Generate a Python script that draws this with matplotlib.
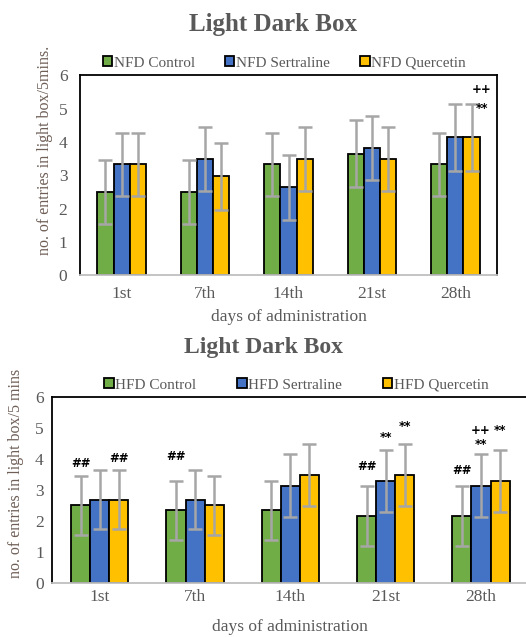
import numpy as np
import matplotlib.pyplot as plt

days = ['1st', '7th', '14th', '21st', '28th']

# normal fat diet
nfd_labels = ['NFD Control', 'NFD Sertraline', 'NFD Quercetin']
nfd_control = [2.5, 2.5, 3.33, 3.65, 3.33]
nfd_control_err = [0.97, 0.97, 0.95, 1.0, 0.95]
nfd_sertraline = [3.33, 3.49, 2.64, 3.82, 4.14]
nfd_sertraline_err = [0.95, 0.96, 0.97, 0.96, 1.0]
nfd_quercetin = [3.33, 2.97, 3.49, 3.49, 4.14]
nfd_quercetin_err = [0.95, 1.0, 0.96, 0.96, 1.0]
# (day index, series index, text, y position)
nfd_marks = [(4, 2, '++', 5.57), (4, 2, '**', 5.0)]

# high fat diet
hfd_labels = ['HFD Control', 'HFD Sertraline', 'HFD Quercetin']
hfd_control = [2.5, 2.33, 2.33, 2.16, 2.16]
hfd_control_err = [0.95, 0.95, 0.95, 0.97, 0.97]
hfd_sertraline = [2.67, 2.67, 3.13, 3.29, 3.13]
hfd_sertraline_err = [0.95, 0.95, 1.02, 1.0, 1.02]
hfd_quercetin = [2.67, 2.5, 3.46, 3.46, 3.29]
hfd_quercetin_err = [0.95, 0.95, 1.0, 1.0, 1.0]
hfd_marks = [(0, 0, '##', 3.85), (0, 2, '##', 4.0), (1, 0, '##', 4.06),
             (3, 0, '##', 3.74), (3, 1, '**', 4.69), (3, 2, '**', 5.03),
             (4, 0, '##', 3.63), (4, 1, '**', 4.46), (4, 1, '++', 4.9),
             (4, 2, '**', 4.92)]

colors = ['#70AD47', '#4472C4', '#FFC000']
GRAY = '#595959'
YLAB = '#6E5E56'

plt.rcParams['font.family'] = 'Liberation Serif'


def draw_panel(ax, series, errs, labels, marks, width, ylabel, mark_dx,
               opts):
    x = np.arange(len(days))
    for i, (vals, err) in enumerate(zip(series, errs)):
        pos = x + (i - 1) * width
        ax.bar(pos, vals, width, color=colors[i], edgecolor='black',
               linewidth=1.3, label=labels[i], zorder=2)
        ax.errorbar(pos, vals, yerr=err, fmt='none', ecolor='#A6A6A6',
                    elinewidth=1.8, capsize=5, capthick=1.8, zorder=3)
    for d, s, txt, yv in marks:
        ax.text(d + (s - 1) * width + mark_dx, yv, txt, ha='center',
                va='center', fontsize=8.5, fontweight='bold', color='black',
                family='DejaVu Sans', zorder=4)

    ax.set_xlim(-0.5, len(days) - 0.5)
    ax.set_ylim(0, 6)
    ax.set_yticks(range(7))
    ax.set_xticks(x)
    ax.set_xticklabels(days)
    ax.tick_params(length=0, labelsize=12.5, labelcolor=GRAY)
    ax.tick_params(axis='x', pad=opts['xpad'])
    ax.tick_params(axis='y', pad=opts['ypad'])
    for sp in ['left', 'top', 'right']:
        ax.spines[sp].set_color('black')
        ax.spines[sp].set_linewidth(1.3)
    ax.spines['bottom'].set_color('#BFBFBF')
    ax.spines['bottom'].set_linewidth(1.3)
    ax.set_xlabel('days of administration', fontsize=12.5, color=GRAY,
                  labelpad=opts['xlabelpad'])
    ax.set_ylabel(ylabel, fontsize=11.5, color=YLAB,
                  labelpad=opts['ylabelpad'])
    ax.yaxis.label.set_y(opts['ylab_y'])
    leg = ax.legend(loc='center', bbox_to_anchor=opts['leg'], ncol=3,
                    frameon=False, fontsize=11, handlelength=0.6,
                    handleheight=0.6, handletextpad=0.1,
                    columnspacing=opts['colsp'])
    for t in leg.get_texts():
        t.set_color(GRAY)


fig = plt.figure(figsize=(5.26, 6.37), dpi=100)

ax1 = fig.add_axes([0.152, 0.568, 0.793, 0.314])
draw_panel(ax1, [nfd_control, nfd_sertraline, nfd_quercetin],
           [nfd_control_err, nfd_sertraline_err, nfd_quercetin_err],
           nfd_labels, nfd_marks, 0.195,
           'no. of entries in light box/5mins.', 0.12,
           dict(xpad=8, ypad=9, xlabelpad=5, ylabelpad=4, ylab_y=0.625,
                leg=(0.49, 1.061), colsp=2.0))
fig.text(0.519, 0.962, 'Light Dark Box', ha='center', va='center',
         fontsize=18, fontweight='bold', color=GRAY)

ax2 = fig.add_axes([0.099, 0.0853, 0.906, 0.292])
draw_panel(ax2, [hfd_control, hfd_sertraline, hfd_quercetin],
           [hfd_control_err, hfd_sertraline_err, hfd_quercetin_err],
           hfd_labels, hfd_marks, 0.2,
           'no. of entries in light box/5 mins', 0.0,
           dict(xpad=4.5, ypad=6, xlabelpad=10, ylabelpad=8, ylab_y=0.59,
                leg=(0.513, 1.063), colsp=2.7))
fig.text(0.5, 0.4537, 'Light Dark Box', ha='center', va='center',
         fontsize=17, fontweight='bold', color=GRAY)

fig.savefig('out.png', dpi=100)
